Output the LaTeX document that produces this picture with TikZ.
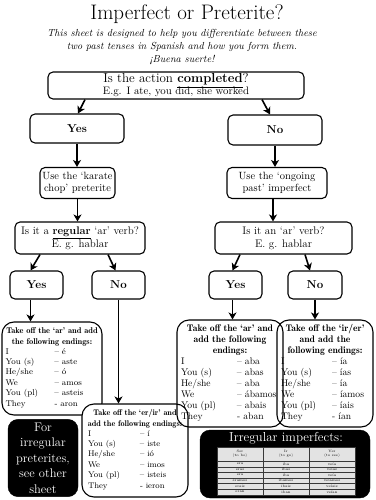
\documentclass[tikz,border=0pt]{standalone}
\usepackage{fontspec}
\usetikzlibrary{arrows.meta}
\newcommand{\myhead}[1]{{\fontseries{b}\selectfont #1}}
\begin{document}
\begin{tikzpicture}[x=1pt,y=-1pt,
 box/.style={draw,line width=1.1pt,rounded corners=5pt,fill=white,align=center,inner sep=1pt},
 endbox/.style={draw,line width=1.1pt,rounded corners=12pt,align=center,inner sep=2pt},
 blackbox/.style={fill=black,draw=black,rounded corners=10pt,text=white,align=center},
 arr/.style={line width=1.6pt,-{Stealth[length=7pt,width=8pt,inset=2pt]}},
 cell/.style={fill=gray!22,draw=gray!45!black,line width=0.3pt,minimum width=46,minimum height=5.63,inner sep=0pt,font=\fontsize{3.5}{4}\selectfont,align=center},
 yn/.style={box,minimum width=53,minimum height=28,font=\bfseries\fontsize{11.5}{13}\selectfont}
]
\useasboundingbox (0,0) rectangle (375,500);

% title
\node (title) at (187,14) {\fontsize{21}{25}\selectfont Imperfect or Preterite?};
\node[align=center,font=\fontsize{10.2}{13.2}\selectfont\itshape] (sub) at (182,47) {This sheet is designed to help you differentiate between these\\ two past tenses in Spanish and how you form them.\\ ¡Buena suerte!};

% first question
\node[box,minimum width=256,minimum height=27] (q1) at (176,85.5) {\fontsize{13}{14}\selectfont Is the action \underline{\textbf{completed}}?\\[-1pt]\fontsize{10.8}{12}\selectfont E.g. I ate, you did, she worked};

\node[box,minimum width=94,minimum height=29,font=\bfseries\fontsize{11.5}{13}\selectfont] (yes1) at (77,128.5) {Yes};
\node[box,minimum width=94,minimum height=30,font=\bfseries\fontsize{11.5}{13}\selectfont] (no1) at (275,130) {No};

\node[box,minimum width=75,minimum height=31,font=\fontsize{10.5}{12.5}\selectfont] (use1) at (77.5,183) {Use the `karate\\ chop' preterite};
\node[box,minimum width=100,minimum height=31,font=\fontsize{10.5}{12.5}\selectfont] (use2) at (277,183) {Use the `ongoing\\ past' imperfect};

\node[box,minimum width=130,minimum height=32,font=\fontsize{11}{13}\selectfont] (q2) at (80,238) {Is it a \underline{\textbf{regular}} `ar' verb?\\ E. g. hablar};
\node[box,minimum width=137,minimum height=32,font=\fontsize{11}{13}\selectfont] (q3) at (283.5,238) {Is it an `ar' verb?\\ E. g. hablar};

\node[yn] (yes2) at (36.5,285) {Yes};
\node[yn] (no2) at (118.5,285) {No};
\node[yn] (yes3) at (235.5,285) {Yes};
\node[yn,minimum width=54] (no3) at (315,285) {No};

% arrows
\draw[arr] ([xshift=-91pt]q1.south) -- ([xshift=1pt]yes1.north);
\draw[arr] ([xshift=86pt]q1.south) -- ([xshift=-5pt]no1.north);
\draw[arr] (yes1.south) -- (yes1.south |- use1.north);
\draw[arr] (no1.south) -- (no1.south |- use2.north);
\draw[arr] (use1.south) -- (use1.south |- q2.north);
\draw[arr] ([xshift=-4pt]use2.south) -- ([xshift=-4pt]use2.south |- q3.north);
\draw[arr] ([xshift=-40pt]q2.south) -- ([xshift=-6pt]yes2.north);
\draw[arr] ([xshift=28pt]q2.south) -- ([xshift=-3pt]no2.north);
\draw[arr] ([xshift=-43.5pt]q3.south) -- ([xshift=-3pt]yes3.north);
\draw[arr] ([xshift=21.5pt]q3.south) -- ([xshift=-5pt]no3.north);

% ending boxes
\node[endbox,fill=white,minimum width=100,minimum height=93,font=\fontsize{8.4}{10.4}\selectfont] (ar1) at (52,368.5) {\myhead{Take off the `ar' and add}\\\myhead{the following endings:}\\
\begin{tabular}{@{}p{49pt}@{}p{44pt}@{}}
I & – é\\ You (s) & – aste\\ He/she & – ó\\ We & – amos\\ You (pl) & – asteis\\ They & - aron
\end{tabular}};
\node[endbox,fill=white,minimum width=106,minimum height=93,font=\fontsize{8.2}{10.4}\selectfont] (erir1) at (135,450.5) {\myhead{Take off the `er/ir' and}\\\myhead{add the following endings:}\\
\begin{tabular}{@{}p{52pt}@{}p{42pt}@{}}
I & – í\\ You (s) & – iste\\ He/she & – ió\\ We & – imos\\ You (pl) & – isteis\\ They & - ieron
\end{tabular}};
\node[endbox,minimum width=106,minimum height=107,font=\fontsize{9.6}{11}\selectfont] (ar2) at (230,373.5) {\myhead{Take off the `ar' and}\\\myhead{add the following}\\\myhead{endings:}\\
\begin{tabular}{@{}p{56pt}@{}p{42pt}@{}}
I & – aba\\ You (s) & – abas\\ He/she & – aba\\ We & – ábamos\\ You (pl) & – abais\\ They & - aban
\end{tabular}};
\node[endbox,minimum width=96,minimum height=107,font=\fontsize{9.6}{11}\selectfont] (ir2) at (325,373.5) {\myhead{Take off the `ir/er'}\\\myhead{and add the}\\\myhead{following endings:}\\
\begin{tabular}{@{}p{51pt}@{}p{37pt}@{}}
I & – ía\\ You (s) & – ías\\ He/she & – ía\\ We & – íamos\\ You (pl) & – íais\\ They & - ían
\end{tabular}};

\draw[arr] ([xshift=-6pt]yes2.south) -- ([xshift=-6pt]yes2.south |- ar1.north);
\draw[arr] (no2.south) -- (no2.south |- erir1.north);
\draw[arr] ([xshift=-3pt]yes3.south) -- ([xshift=-3pt]yes3.south |- ar2.north);
\draw[arr] (no3.south) -- (no3.south |- ir2.north);

% black boxes
\node[blackbox,minimum width=70,minimum height=76,font=\fontsize{12.5}{15.5}\selectfont] (blk) at (43,458) {For\\ irregular\\ preterites,\\ see other\\ sheet};
\node[blackbox,minimum width=170,minimum height=68] (irr) at (285,464) {};
\node[text=white,font=\fontsize{13}{15}\selectfont,inner sep=0pt] (irrt) at (286,438.5) {Irregular imperfects:};

\node[cell,minimum height=14] (h1) at (240,454) {Ser\\(to be)};
\node[cell,minimum height=14] (h2) at (286,454) {Ir\\(to go)};
\node[cell,minimum height=14] (h3) at (332,454) {Ver\\(to see)};
\foreach \a/\b/\c [count=\i] in {era/iba/veía,eras/ibas/veías,era/iba/veía,éramos/íbamos/veíamos,erais/ibais/veíais,eran/iban/veían}{
  \node[cell] (r\i a) at (240,458.2+\i*5.63) {\a};
  \node[cell] (r\i b) at (286,458.2+\i*5.63) {\b};
  \node[cell] (r\i c) at (332,458.2+\i*5.63) {\c};
}
\end{tikzpicture}
\end{document}
